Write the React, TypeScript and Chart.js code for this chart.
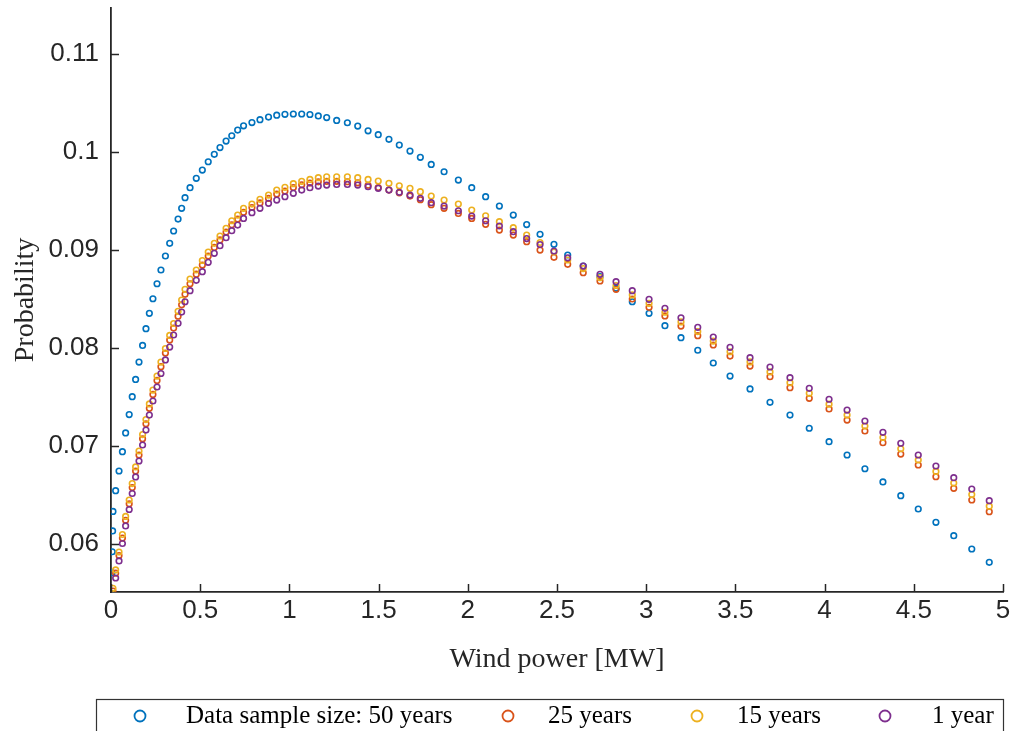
import React, { useEffect, useRef } from "react";
import { Chart, registerables } from "chart.js";

Chart.register(...registerables);

// Wind power grid (MW)
const windPowerMW = [
  0.005, 0.007, 0.009, 0.011, 0.026, 0.045, 0.064, 0.082, 0.102, 0.119,
  0.138, 0.157, 0.177, 0.196, 0.215, 0.235, 0.258, 0.280, 0.305, 0.329,
  0.351, 0.376, 0.396, 0.415, 0.443, 0.478, 0.512, 0.545, 0.579, 0.611,
  0.645, 0.677, 0.710, 0.743, 0.790, 0.835, 0.883, 0.929, 0.975, 1.022,
  1.069, 1.115, 1.162, 1.209, 1.265, 1.325, 1.383, 1.441, 1.498, 1.558,
  1.616, 1.676, 1.734, 1.795, 1.867, 1.947, 2.022, 2.100, 2.177, 2.255,
  2.330, 2.405, 2.483, 2.560, 2.647, 2.741, 2.831, 2.922, 3.016, 3.105,
  3.195, 3.289, 3.376, 3.470, 3.582, 3.694, 3.806, 3.914, 4.025, 4.126,
  4.226, 4.327, 4.427, 4.525, 4.624, 4.724, 4.825, 4.923,
];

const prob50Years = [
  0.05707, 0.05921, 0.06133, 0.06332, 0.06544, 0.06745, 0.06942, 0.07133, 0.07321, 0.07503,
  0.07679, 0.07857, 0.08026, 0.08197, 0.08354, 0.08503, 0.08656, 0.08796, 0.08939, 0.09068,
  0.09194, 0.09316, 0.09426, 0.09534, 0.09636, 0.09732, 0.09816, 0.09901, 0.09977, 0.10046,
  0.10112, 0.10166, 0.10224, 0.10268, 0.10301, 0.10330, 0.10357, 0.10376, 0.10385, 0.10388,
  0.10388, 0.10383, 0.10369, 0.10352, 0.10323, 0.10299, 0.10265, 0.10217, 0.10177, 0.10130,
  0.10071, 0.10010, 0.09946, 0.09874, 0.09799, 0.09714, 0.09636, 0.09544, 0.09449, 0.09357,
  0.09260, 0.09160, 0.09058, 0.08949, 0.08837, 0.08728, 0.08609, 0.08472, 0.08354, 0.08228,
  0.08105, 0.07977, 0.07847, 0.07714, 0.07582, 0.07446, 0.07316, 0.07181, 0.07044, 0.06908,
  0.06768, 0.06633, 0.06493, 0.06357, 0.06221, 0.06085, 0.05949, 0.05813,
];

const prob25Years = [
  null, null, null, 0.05520, 0.05702, 0.05882, 0.06060, 0.06242, 0.06410, 0.06576,
  0.06745, 0.06908, 0.07074, 0.07227, 0.07384, 0.07526, 0.07669, 0.07810, 0.07948, 0.08081,
  0.08203, 0.08325, 0.08441, 0.08548, 0.08656, 0.08754, 0.08847, 0.08938, 0.09027, 0.09103,
  0.09183, 0.09258, 0.09316, 0.09385, 0.09434, 0.09481, 0.09527, 0.09571, 0.09602, 0.09638,
  0.09665, 0.09683, 0.09696, 0.09701, 0.09701, 0.09697, 0.09686, 0.09661, 0.09637, 0.09612,
  0.09584, 0.09551, 0.09513, 0.09463, 0.09426, 0.09374, 0.09323, 0.09262, 0.09204, 0.09153,
  0.09085, 0.09000, 0.08926, 0.08854, 0.08768, 0.08684, 0.08599, 0.08500, 0.08415, 0.08327,
  0.08224, 0.08126, 0.08031, 0.07918, 0.07816, 0.07707, 0.07595, 0.07487, 0.07378, 0.07265,
  0.07153, 0.07034, 0.06918, 0.06806, 0.06687, 0.06568, 0.06449, 0.06330,
];

const prob15Years = [
  null, null, null, 0.05548, 0.05735, 0.05918, 0.06097, 0.06281, 0.06449, 0.06617,
  0.06786, 0.06949, 0.07117, 0.07270, 0.07429, 0.07571, 0.07714, 0.07857, 0.07995, 0.08128,
  0.08250, 0.08374, 0.08490, 0.08599, 0.08704, 0.08796, 0.08893, 0.08980, 0.09068, 0.09143,
  0.09221, 0.09299, 0.09357, 0.09426, 0.09469, 0.09517, 0.09561, 0.09612, 0.09640, 0.09677,
  0.09701, 0.09721, 0.09738, 0.09748, 0.09748, 0.09748, 0.09738, 0.09721, 0.09704, 0.09681,
  0.09656, 0.09630, 0.09595, 0.09551, 0.09510, 0.09469, 0.09408, 0.09350, 0.09289, 0.09228,
  0.09153, 0.09077, 0.08980, 0.08898, 0.08811, 0.08719, 0.08638, 0.08542, 0.08456, 0.08365,
  0.08266, 0.08168, 0.08071, 0.07962, 0.07858, 0.07756, 0.07646, 0.07538, 0.07427, 0.07316,
  0.07204, 0.07087, 0.06972, 0.06857, 0.06741, 0.06622, 0.06505, 0.06386,
];

const prob1Year = [
  null, null, null, null, 0.05653, 0.05827, 0.06005, 0.06184, 0.06352, 0.06515,
  0.06684, 0.06847, 0.07010, 0.07163, 0.07316, 0.07459, 0.07602, 0.07740, 0.07878, 0.08010,
  0.08133, 0.08252, 0.08367, 0.08472, 0.08585, 0.08691, 0.08779, 0.08874, 0.08966, 0.09044,
  0.09126, 0.09197, 0.09255, 0.09323, 0.09381, 0.09426, 0.09477, 0.09510, 0.09544, 0.09579,
  0.09612, 0.09636, 0.09653, 0.09663, 0.09670, 0.09670, 0.09663, 0.09646, 0.09630, 0.09612,
  0.09589, 0.09561, 0.09528, 0.09483, 0.09449, 0.09401, 0.09347, 0.09299, 0.09245, 0.09187,
  0.09117, 0.09056, 0.08990, 0.08921, 0.08837, 0.08752, 0.08677, 0.08585, 0.08497, 0.08405,
  0.08309, 0.08211, 0.08112, 0.08007, 0.07901, 0.07806, 0.07697, 0.07589, 0.07477, 0.07367,
  0.07255, 0.07140, 0.07028, 0.06908, 0.06796, 0.06677, 0.06561, 0.06442,
];

const seriesNames = ["Data sample size: 50 years", "25 years", "15 years", "1 year"];
const seriesColors = ["#0072BD", "#D95319", "#EDB120", "#7E2F8E"];
const seriesValues = [prob50Years, prob25Years, prob15Years, prob1Year];

const xTickValues = [0, 0.5, 1, 1.5, 2, 2.5, 3, 3.5, 4, 4.5, 5];
const xTickLabels = ["0", "0.5", "1", "1.5", "2", "2.5", "3", "3.5", "4", "4.5", "5"];
const yTickValues = [0.06, 0.07, 0.08, 0.09, 0.1, 0.11];
const yTickLabels = ["0.06", "0.07", "0.08", "0.09", "0.1", "0.11"];

const xTitle = "Wind power [MW]";
const yTitle = "Probability";

const AXIS_COLOR = "#262626";
const SANS = "'Liberation Sans', Arial, Helvetica, sans-serif";
const SERIF = "'Liberation Serif', 'Times New Roman', serif";

const legendLayout = [
  { marker: 140, text: 186 },
  { marker: 508, text: 548 },
  { marker: 697, text: 737 },
  { marker: 885, text: 932 },
];

const decorPlugin = {
  id: "decor",
  afterDraw(chart: any) {
    const { ctx, chartArea: a, scales } = chart;
    ctx.save();
    // inward tick marks
    ctx.strokeStyle = AXIS_COLOR;
    ctx.lineWidth = 1.5;
    xTickValues.forEach((v) => {
      const px = Math.round(scales.x.getPixelForValue(v)) + 0.5;
      ctx.beginPath();
      ctx.moveTo(px, a.bottom);
      ctx.lineTo(px, a.bottom - 8);
      ctx.stroke();
    });
    yTickValues.forEach((v) => {
      const py = Math.round(scales.y.getPixelForValue(v)) + 0.5;
      ctx.beginPath();
      ctx.moveTo(a.left, py);
      ctx.lineTo(a.left + 8, py);
      ctx.stroke();
    });

    // axis titles
    ctx.fillStyle = AXIS_COLOR;
    ctx.font = `28px ${SERIF}`;
    ctx.textAlign = "center";
    ctx.textBaseline = "middle";
    ctx.fillText(xTitle, (a.left + a.right) / 2, 660);
    ctx.save();
    ctx.translate(26, (a.top + a.bottom) / 2);
    ctx.rotate(-Math.PI / 2);
    ctx.fillText(yTitle, 0, 0);
    ctx.restore();

    // legend box
    ctx.strokeStyle = "#333333";
    ctx.lineWidth = 1.2;
    ctx.fillStyle = "#ffffff";
    ctx.fillRect(96, 699, 908, 40);
    ctx.strokeRect(96.5, 699.5, 907, 40);
    ctx.font = `25px ${SERIF}`;
    ctx.textAlign = "left";
    ctx.textBaseline = "middle";
    legendLayout.forEach((L, i) => {
      ctx.strokeStyle = seriesColors[i];
      ctx.lineWidth = 1.8;
      ctx.beginPath();
      ctx.arc(L.marker, 716, 5.5, 0, Math.PI * 2);
      ctx.stroke();
      ctx.fillStyle = "#000000";
      ctx.fillText(seriesNames[i], L.text, 716);
    });
    ctx.restore();
  },
};

export default function App() {
  const canvasRef = useRef<HTMLCanvasElement | null>(null);

  useEffect(() => {
    if (!canvasRef.current) return;
    const datasets = seriesValues.map((vals, s) => ({
      label: seriesNames[s],
      data: windPowerMW
        .map((x, i) => ({ x, y: vals[i] }))
        .filter((p) => p.y !== null) as { x: number; y: number }[],
      showLine: false,
      pointStyle: "circle",
      pointRadius: 2.8,
      pointHoverRadius: 2.8,
      pointBorderWidth: 1.6,
      borderColor: seriesColors[s],
      pointBorderColor: seriesColors[s],
      backgroundColor: "rgba(255,255,255,0)",
      pointBackgroundColor: "rgba(255,255,255,0)",
      order: 4 - s,
    }));

    const chart = new Chart(canvasRef.current, {
      type: "scatter",
      data: { datasets },
      options: {
        animation: false,
        responsive: true,
        maintainAspectRatio: false,
        events: [],
        layout: { padding: { left: 0, right: 11, top: 8, bottom: 0 } },
        plugins: {
          legend: { display: false },
          tooltip: { enabled: false },
          title: { display: false },
        },
        scales: {
          x: {
            type: "linear",
            min: 0,
            max: 5,
            afterBuildTicks: (s: any) => {
              s.ticks = xTickValues.map((v) => ({ value: v }));
            },
            afterFit: (s: any) => {
              s.height = 139;
              s.paddingLeft = 0;
              s.paddingRight = 0;
              s.paddingTop = 0;
              s.paddingBottom = 0;
            },
            grid: { display: false, drawTicks: false },
            border: { display: true, color: AXIS_COLOR, width: 1.8 },
            ticks: {
              padding: 3,
              color: AXIS_COLOR,
              font: { family: SANS, size: 26 },
              maxRotation: 0,
              autoSkip: false,
              callback: (_v: any, i: number) => xTickLabels[i],
            },
          },
          y: {
            type: "linear",
            min: 0.0551,
            max: 0.1147,
            afterBuildTicks: (s: any) => {
              s.ticks = yTickValues.map((v) => ({ value: v }));
            },
            afterFit: (s: any) => {
              s.width = 111;
              s.paddingLeft = 0;
              s.paddingRight = 0;
              s.paddingTop = 0;
              s.paddingBottom = 0;
            },
            grid: { display: false, drawTicks: false },
            border: { display: true, color: AXIS_COLOR, width: 1.8 },
            ticks: {
              padding: 12,
              color: AXIS_COLOR,
              font: { family: SANS, size: 26 },
              autoSkip: false,
              callback: (_v: any, i: number) => yTickLabels[i],
            },
          },
        },
      } as any,
      plugins: [decorPlugin],
    });
    return () => chart.destroy();
  }, []);

  return (
    <div
      style={{
        position: "absolute",
        left: 0,
        top: 0,
        width: "1014px",
        height: "731px",
        background: "#ffffff",
        overflow: "hidden",
      }}
    >
      <canvas ref={canvasRef} />
    </div>
  );
}
